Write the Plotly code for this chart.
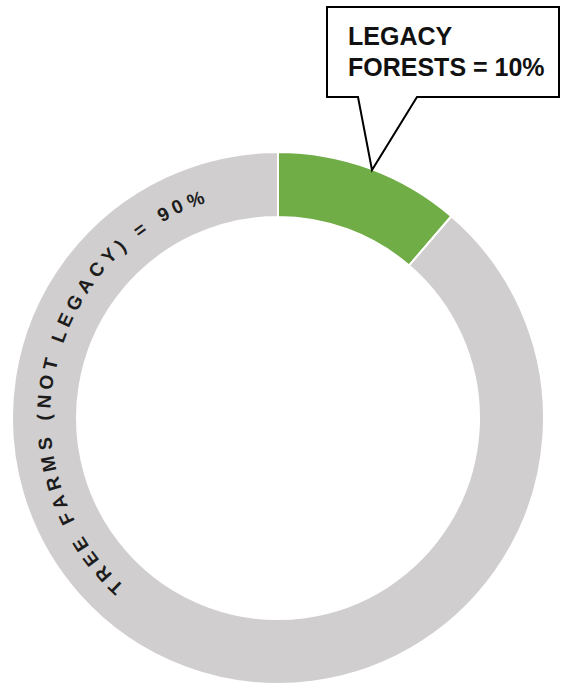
import math
import plotly.graph_objects as go

W, H = 562, 688

# ---- data ----
labels = ["LEGACY FORESTS", "TREE FARMS (NOT LEGACY)"]
values = [11.3, 88.7]
colors = ["#70AD47", "#D0CECE"]
callout_lines = ["LEGACY", "FORESTS = 10%"]
arc_label = "TREE FARMS (NOT LEGACY) = 90%"

# ---- geometry (pixels) ----
CX, CY = 278, 418
R_OUT = 266
R_IN = 201
R_TEXT = 234
THETA_START, THETA_END = 222.4, 341.4  # degrees clockwise from 12 o'clock


def px(x):
    return x / W


def py(y):
    return 1 - y / H


fig = go.Figure()
fig.add_trace(go.Pie(
    labels=labels, values=values, sort=False, direction="clockwise", rotation=0,
    hole=R_IN / R_OUT, textinfo="none", hoverinfo="label+percent",
    marker=dict(colors=colors, line=dict(color="white", width=2)),
    domain=dict(x=[px(CX - R_OUT), px(CX + R_OUT)],
                y=[py(CY + R_OUT), py(CY - R_OUT)]),
    showlegend=False,
))

# ---- curved label along the ring ----
# approximate Arial Bold advance widths (em)
AW = {"T": .611, "R": .722, "E": .667, " ": .278, "F": .611, "A": .722, "M": .833,
      "S": .667, "(": .333, "N": .722, "O": .778, "L": .611, "G": .778, "C": .722,
      "Y": .667, ")": .333, "=": .584, "9": .556, "0": .556, "%": .889}
FS = 19
widths = [AW.get(c, .6) * FS for c in arc_label]
arc_len = math.radians(THETA_END - THETA_START) * R_TEXT
gap = (arc_len - sum(widths)) / (len(arc_label) - 1)
s = 0.0
annotations = []
for c, w in zip(arc_label, widths):
    mid = s + w / 2
    th = THETA_START + math.degrees(mid / R_TEXT)
    s += w + gap
    if c == " ":
        continue
    t = math.radians(th)
    x = CX + R_TEXT * math.sin(t)
    y = CY - R_TEXT * math.cos(t)
    annotations.append(dict(
        x=px(x), y=py(y), xref="paper", yref="paper", text="<b>" + c + "</b>",
        showarrow=False, textangle=th - 360, xanchor="center", yanchor="middle",
        font=dict(family="Liberation Sans, Arial, sans-serif", size=FS, color="#1c1c1c"),
    ))

# ---- callout box ----
box = [(327, 7), (559, 7), (559, 97), (417, 97), (372, 170), (358, 97), (327, 97)]
path = "M " + " L ".join(f"{px(x):.5f},{py(y):.5f}" for x, y in box) + " Z"
shapes = [dict(type="path", path=path, xref="paper", yref="paper",
               fillcolor="white", line=dict(color="black", width=2), layer="above")]

for txt, ybase in zip(callout_lines, [47, 78]):
    annotations.append(dict(
        x=px(346), y=py(ybase + 5), xref="paper", yref="paper", text="<b>" + txt + "</b>",
        showarrow=False, xanchor="left", yanchor="bottom",
        font=dict(family="Liberation Sans, Arial, sans-serif", size=25, color="#111111"),
    ))

fig.update_layout(
    width=W, height=H, margin=dict(l=0, r=0, t=0, b=0),
    paper_bgcolor="white", plot_bgcolor="white",
    shapes=shapes, annotations=annotations,
)
fig.write_html("out.html", config={"displayModeBar": False},
               post_script="document.body.style.margin='0';")
